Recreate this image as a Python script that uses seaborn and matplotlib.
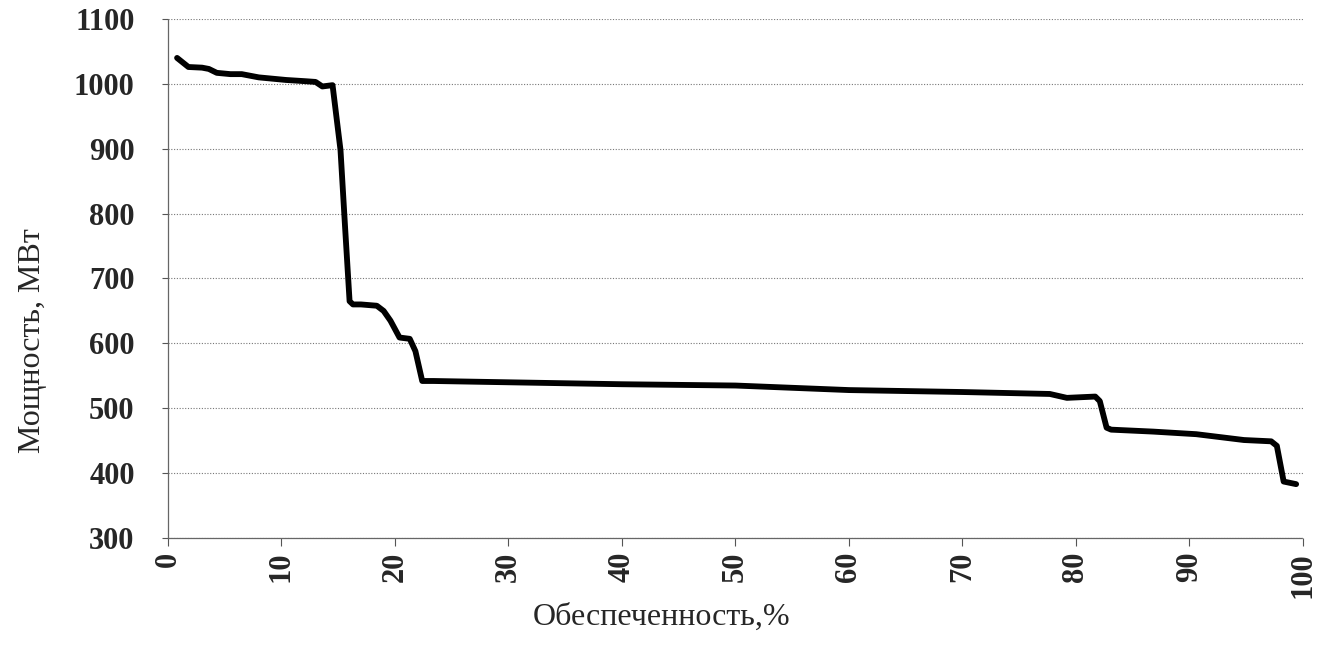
import matplotlib
matplotlib.use("Agg")
import matplotlib.pyplot as plt
import seaborn as sns
import pandas as pd

# Data
supply_pct = [0.8, 1.8, 3.0, 3.6, 4.3, 5.5, 6.5, 8.0, 10.4, 12.2, 13.0, 13.6, 14.5,
              15.2, 15.6, 16.0, 16.3, 17.0, 18.4, 19.0, 19.6, 20.4, 21.3, 21.8, 22.4,
              23.4, 30.0, 40.0, 50.0, 60.0, 70.0, 77.7, 79.2, 81.7, 82.1, 82.7, 83.1,
              86.8, 90.6, 94.8, 97.2, 97.7, 98.3, 99.4]
power_mw = [1040, 1026, 1025, 1023, 1017, 1015, 1015, 1010, 1006, 1004, 1003, 996, 998,
            898, 780, 665, 660, 660, 658, 650, 635, 609, 607, 588, 542,
            542, 540, 537, 535, 528, 525, 522, 516, 518, 511, 470, 467,
            464, 460, 451, 449, 442, 387, 383]
x_ticks = [0, 10, 20, 30, 40, 50, 60, 70, 80, 90, 100]
y_ticks = [300, 400, 500, 600, 700, 800, 900, 1000, 1100]

df = pd.DataFrame({"x": supply_pct, "y": power_mw})

sns.set_theme(style="white")
plt.rcParams['font.family'] = ['Liberation Serif', 'DejaVu Serif']

fig = plt.figure(figsize=(13.29, 6.46), dpi=100)
ax = fig.add_axes([0.1264, 0.1672, 0.8540, 0.8034])

sns.lineplot(data=df, x="x", y="y", sort=False, estimator=None,
             color="black", linewidth=4.2, ax=ax)

ax.set_xlim(0, 100)
ax.set_ylim(300, 1100)
ax.set_xticks(x_ticks)
ax.set_yticks(y_ticks)
ax.set_xticklabels([str(t) for t in x_ticks], rotation=90, fontsize=22, fontweight='bold')
ax.set_yticklabels([str(t) for t in y_ticks], fontsize=22, fontweight='bold')
ax.grid(True, axis='y', color='#777777', linestyle=(0, (1, 1.5)), linewidth=0.8)
ax.grid(False, axis='x')
for s in ['top', 'right']:
    ax.spines[s].set_visible(False)
for s in ['left', 'bottom']:
    ax.spines[s].set_color('#666666')
    ax.spines[s].set_linestyle((0, (1, 1)))
    ax.spines[s].set_linewidth(0.9)
ax.tick_params(axis='y', which='major', direction='out', length=4, width=0.8,
               color='#555555', left=True, pad=20)
ax.tick_params(axis='x', which='major', direction='out', length=6, width=0.8,
               color='#555555', bottom=True, pad=4)

ax.set_xlabel("Обеспеченность,%", fontsize=23)
ax.set_ylabel("Мощность, МВт", fontsize=23)
ax.xaxis.label.set_va('center')
ax.yaxis.label.set_va('center')
ax.xaxis.set_label_coords(0.435, -0.152)
ax.yaxis.set_label_coords(-0.1198, 0.3796)

fig.savefig("out.png", dpi=100)
